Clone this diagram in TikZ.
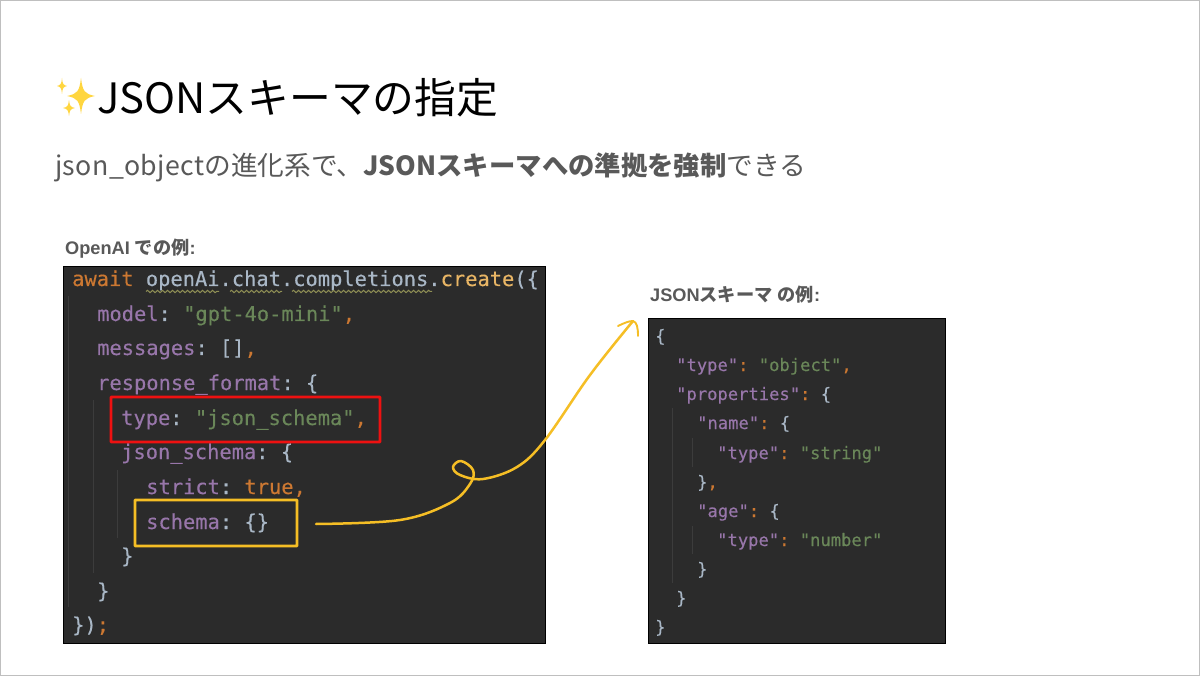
\documentclass[tikz,border=0pt]{standalone}
\usepackage{fontspec}
\usetikzlibrary{decorations.pathmorphing}
\newfontfamily\jp{Noto Sans CJK JP}
\newfontfamily\capf{Liberation Sans}
\newfontfamily\codef{DejaVu Sans Mono}[FakeBold=0.3]
\definecolor{panelbg}{HTML}{2B2B2B}
\definecolor{cpur}{HTML}{9876AA}
\definecolor{cgrn}{HTML}{6A8759}
\definecolor{corg}{HTML}{CC7832}
\definecolor{cdef}{HTML}{A9B7C6}
\definecolor{cfun}{HTML}{E8B565}
\definecolor{cguide}{HTML}{3C3C3C}
\definecolor{cwave}{HTML}{8F8F55}
\definecolor{lineyellow}{HTML}{F5BE25}
\definecolor{sparkfill}{HTML}{FFD63F}
\definecolor{boxred}{HTML}{EE1111}
\definecolor{labelgray}{HTML}{595959}
\newcommand{\Pu}[1]{\textcolor{cpur}{#1}}
\newcommand{\Gr}[1]{\textcolor{cgrn}{#1}}
\newcommand{\Or}[1]{\textcolor{corg}{#1}}
\newcommand{\Fu}[1]{\textcolor{cfun}{#1}}
\newcommand{\sparkle}[4]{\fill[sparkfill] (#1,#2-#4) .. controls (#1+0.12*#3,#2-0.25*#4) and (#1+0.25*#3,#2-0.12*#4) .. (#1+#3,#2) .. controls (#1+0.25*#3,#2+0.12*#4) and (#1+0.12*#3,#2+0.25*#4) .. (#1,#2+#4) .. controls (#1-0.12*#3,#2+0.25*#4) and (#1-0.25*#3,#2+0.12*#4) .. (#1-#3,#2) .. controls (#1-0.25*#3,#2-0.12*#4) and (#1-0.12*#3,#2-0.25*#4) .. (#1,#2-#4) -- cycle;}
\tikzset{
  x=1pt,y=-1pt,
  panel/.style={draw=black,line width=1pt,fill=panelbg,outer sep=0pt},
  guide/.style={draw=cguide,line width=1pt},
  wave/.style={draw=cwave,line width=1pt,decorate,decoration={snake,amplitude=1.2pt,segment length=5pt}},
  codeL/.style={anchor=base west,inner sep=0pt,text=cdef,font=\codef\frenchspacing\fontsize{20.4}{24}\selectfont},
  codeR/.style={anchor=base west,inner sep=0pt,text=cdef,font=\codef\frenchspacing\fontsize{17.15}{20}\selectfont},
  caption/.style={anchor=base west,inner sep=0pt,text=labelgray,font=\capf\bfseries\fontsize{18.2}{20}\selectfont},
  mark box/.style={line width=2.6pt,rounded corners=0.5pt,outer sep=0pt},
  handline/.style={draw=lineyellow,line width=2.5pt,line cap=round,line join=round},
}
\begin{document}
\begin{tikzpicture}
\useasboundingbox (0,0) rectangle (1200,676);
\draw[draw=black!25,line width=1pt,fill=white] (0.5,0.5) rectangle (1199.5,675);
% title
\sparkle{81}{96}{14}{18}
\sparkle{62}{86}{5}{8}
\sparkle{69}{108}{6}{8}
\node[anchor=base west,inner sep=0pt,text=black,font=\jp\fontsize{41.8}{48}\selectfont] (title) at (97,114) {JSONスキーマの指定};
\node[anchor=base west,inner sep=0pt,text=labelgray,font=\jp\fontsize{26.7}{30}\selectfont] (subtitle) at (55,176) {{\addfontfeature{LetterSpace=1.4}json\_object}の進化系で、{\bfseries\fontsize{26.35}{30}\selectfont JSONスキーマへの準拠を強制}できる};
% captions
\node[caption] (capL) at (65,255) {OpenAI {\jp での例}:};
\node[caption] (capR) at (650,302) {JSON{\jp スキーマ} {\jp の例}:};
% panels
\node[panel,minimum width=482pt,minimum height=376.5pt,inner sep=0pt,anchor=north west] (panelL) at (63.5,266.5) {};
\node[panel,minimum width=297pt,minimum height=324pt,inner sep=0pt,anchor=north west] (panelR) at (648.5,319) {};
% indent guides left
\draw[guide] (68,296) -- (68,607);
\draw[guide] (93,400) -- (93,573);
\draw[guide] (117,470) -- (117,538);
% indent guides right
\draw[guide] (672,408) -- (672,583);
\draw[guide] (692,438) -- (692,467);
\draw[guide] (692,526) -- (692,554);
% left code
\node[codeL] (l1) at (72,286) {\Or{await} openAi.chat.completions.\Fu{create}(\{};
\draw[wave] (146,291.5) -- (219,291.5);
\draw[wave] (230,291.5) -- (282,291.5);
\draw[wave] (292,291.5) -- (432,291.5);
\node[codeL] (l2) at (97,321) {\Pu{model}: \Gr{"gpt-4o-mini"}\Or{,}};
\node[codeL] (l3) at (97,355) {\Pu{messages}: []\Or{,}};
\node[codeL] (l4) at (97,390) {\Pu{response\_format}: \{};
\node[codeL] (l5) at (121,425) {\Pu{type}: \Gr{"json\_schema"}\Or{,}};
\node[codeL] (l6) at (121,459) {\Pu{json\_schema}: \{};
\node[codeL] (l7) at (146,494) {\Pu{strict}: \Or{true,}};
\node[codeL] (l8) at (146,529) {\Pu{schema}: \{\}};
\node[codeL] (l9) at (121,563) {\}};
\node[codeL] (l10) at (97,598) {\}};
\node[codeL] (l11) at (72,632) {\})\Or{;}};
% right code
\node[codeR] (r1) at (655,342) {\{};
\node[codeR] (r2) at (676,371) {\Pu{"type"}\Or{:} \Gr{"object"}\Or{,}};
\node[codeR] (r3) at (676,400) {\Pu{"properties"}\Or{:} \{};
\node[codeR] (r4) at (697,429) {\Pu{"name"}\Or{:} \{};
\node[codeR] (r5) at (717,459) {\Pu{"type"}\Or{:} \Gr{"string"}};
\node[codeR] (r6) at (697,488) {\}\Or{,}};
\node[codeR] (r7) at (697,517) {\Pu{"age"}\Or{:} \{};
\node[codeR] (r8) at (717,546) {\Pu{"type"}\Or{:} \Gr{"number"}};
\node[codeR] (r9) at (697,575) {\}};
\node[codeR] (r10) at (676,604) {\}};
\node[codeR] (r11) at (655,633) {\}};
% highlight boxes
\node[mark box,draw=boxred,minimum width=269pt,minimum height=45pt,inner sep=0pt,anchor=north west] (redbox) at (111,397) {};
\node[mark box,draw=lineyellow,minimum width=162pt,minimum height=46pt,inner sep=0pt,anchor=north west] (yelbox) at (135,500) {};
% hand-drawn arrow
\coordinate (cstart) at (316,524);
\coordinate (cend) at (633,321);
\draw[handline] plot[smooth,tension=0.6] coordinates {(cstart) (400,520) (450,503) (470,484) (473,470) (461,461) (453,467) (460,475) (483,479) (517,467) (545,440) (590,375) (cend)};
\draw[handline,line width=1.9pt] (618,326) .. controls (624,323) and (629,321) .. (cend) .. controls (637,322) and (638,328) .. (638,336);
\end{tikzpicture}
\end{document}
